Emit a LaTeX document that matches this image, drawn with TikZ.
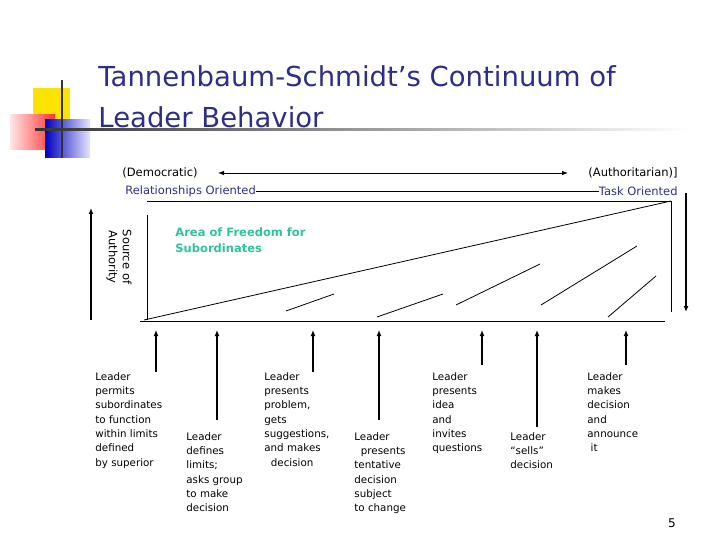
\documentclass[tikz,border=0pt]{standalone}
\usepackage{fontspec}
\setmainfont{DejaVu Sans}
\usetikzlibrary{arrows.meta}
\definecolor{navy}{HTML}{2E2E8A}
\definecolor{teal}{HTML}{2EC49A}
\begin{document}
\begin{tikzpicture}[x=1pt,y=-1pt,line width=0.8pt,
  lbl/.style={anchor=north west,align=left,font=\fontsize{10.3}{14.3}\selectfont,inner sep=0pt},
  hd/.style={font=\fontsize{11.5}{14}\selectfont,inner sep=0pt},
  up/.style={line width=1.6pt,-{Latex[length=6pt,width=5pt]}}]
\useasboundingbox (0,0) rectangle (720,540);
% logo
\fill[yellow!85!orange] (33,88) rectangle (70,122);
\shade[left color=red!10,right color=red!80] (10,115) rectangle (55,150);
\shade[left color=blue!75!black,right color=blue!10] (45,120) rectangle (90,158);
\draw[line width=1.5pt,black!80] (62,80) -- (62,158);
\shade[left color=black!80,right color=white] (35,129) rectangle (690,131);
% title
\node[anchor=north west,font=\fontsize{27.5}{41}\selectfont,text=navy,align=left,inner sep=0pt] (title) at (98,65) {Tannenbaum-Schmidt’s Continuum of\\Leader Behavior};
% header
\node[hd,anchor=west] (dem) at (122,173) {(Democratic)};
\node[hd,anchor=east] (aut) at (678,173) {(Authoritarian)]};
\draw[{Latex[length=6pt]}-{Latex[length=6pt]}] (218,173) -- (568,173);
\node[hd,anchor=west,text=navy] (rel) at (125,191) {Relationships Oriented};
\node[hd,anchor=east,text=navy] (task) at (678,191) {Task Oriented};
\draw[line width=0.6pt] (rel.east) -- (task.west);
% diagram
\coordinate (tl) at (147,201); \coordinate (tr) at (671,201);
\draw (tl) -- (tr) -- (671,312);
\draw (147,215) -- (147,320);
\draw (140,321) -- (665,321);
\draw (144,320) -- (tr);
\draw (286,311) -- (334,294);
\draw (377,317) -- (443,294);
\draw (456,305) -- (540,264);
\draw (541,305) -- (637,246);
\draw (608,317) -- (656,276);
\draw[up] (91,320) -- (91,208);
\draw[up] (686,193) -- (686,312);
\node[text=teal,font=\bfseries\fontsize{11.5}{16}\selectfont,anchor=north west,align=left,inner sep=0pt] (area) at (175,227) {Area of Freedom for\\Subordinates};
\node[rotate=-90,font=\fontsize{11.5}{14}\selectfont,align=center,inner sep=0pt] (src) at (119,257) {Source of\\Authority};
% arrows and labels
\foreach \x/\b in {156/372,217/420,313/372,379/420,482/365,537/427,626/365}
  \draw[up] (\x,\b) -- (\x,330);
\node[lbl] (a) at (95,372) {Leader\\permits\\subordinates\\to function\\within limits\\defined\\by superior};
\node[lbl] (b) at (186,432) {Leader\\defines\\limits;\\asks group\\to make\\decision};
\node[lbl] (c) at (264,372) {Leader\\presents\\problem,\\gets\\suggestions,\\and makes\\\ \ decision};
\node[lbl] (d) at (354,432) {Leader\\\ \ presents\\tentative\\decision\\subject\\to change};
\node[lbl] (e) at (432,372) {Leader\\presents\\idea\\and\\invites\\questions};
\node[lbl] (f) at (510,432) {Leader\\“sells”\\decision};
\node[lbl] (g) at (587,372) {Leader\\makes\\decision\\and\\announce\\\ it};
\node[font=\fontsize{12}{14}\selectfont] (pg) at (672,523) {5};
\end{tikzpicture}
\end{document}
